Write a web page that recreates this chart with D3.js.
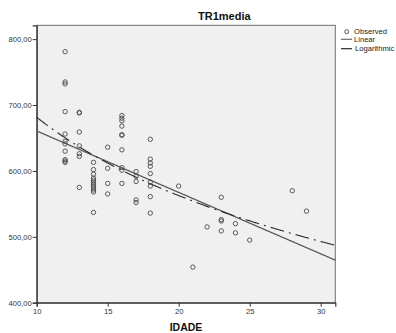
<!DOCTYPE html>
<html>
<head>
<meta charset="utf-8">
<script src="https://cdn.jsdelivr.net/npm/d3@7"></script>
<style>
  body { margin: 0; background: #fff; }
  svg { font-family: 'Liberation Sans', Arial, sans-serif; }
</style>
</head>
<body>
<div id="chart"></div>
<script>
const width = 396;
const height = 333;
const MARGIN = { top: 25.3, right: 60.7, bottom: 30.3, left: 36.7 };
const RADIUS = 2.2;

// observed points (IDADE, TR1media)
const idade = [
  12, 12, 12, 12, 12, 12, 12, 12, 12, 12, 12,
  13, 13, 13, 13, 13, 13, 13,
  14, 14, 14, 14, 14, 14, 14, 14, 14, 14, 14, 14,
  15, 15, 15, 15,
  16, 16, 16, 16, 16, 16, 16, 16, 16, 16,
  17, 17, 17, 17, 17,
  18, 18, 18, 18, 18, 18, 18, 18, 18,
  20, 21, 22,
  23, 23, 23, 23,
  24, 24, 25, 28, 29
];
const tr1media = [
  781, 735, 732, 690, 656, 645, 641, 630, 617, 615, 613,
  689, 688, 659, 638, 626, 622, 575,
  613, 602, 595, 589, 586, 583, 580, 577, 574, 571, 568, 537,
  636, 604, 581, 565,
  684, 680, 676, 668, 655, 654, 632, 605, 601, 581,
  599, 592, 584, 556, 552,
  648, 618, 612, 607, 596, 583, 577, 561, 536,
  577, 454, 515,
  560, 526, 524, 509,
  520, 506, 495, 570, 539
];

// fitted models: [intercept, slope]
const linearFit = [753.8, -9.32];
const logFit = [1076.6, -171.6]; // y = a + b * ln(x)

const xDomain = [10, 31.03];
const yDomain = [400, 821];
const xTicks = [10, 15, 20, 25, 30];
const yTicks = [400, 500, 600, 700, 800];
const legendItems = ['Observed', 'Linear', 'Logarithmic'];

const w = width - MARGIN.left - MARGIN.right;
const h = height - MARGIN.top - MARGIN.bottom;

const svg = d3
  .select('#chart')
  .append('svg')
  .attr('width', width)
  .attr('height', height);

const x = d3.scaleLinear().domain(xDomain).range([0, w]);
const y = d3.scaleLinear().domain(yDomain).range([h, 0]);

// title
svg.append('text')
  .attr('x', 198)
  .attr('y', 20)
  .style('font-size', '11px')
  .style('font-weight', 'bold')
  .attr('fill', '#111')
  .text('TR1media');

const g = svg.append('g')
  .attr('transform', 'translate(' + MARGIN.left + ',' + MARGIN.top + ')');

// plot background
g.append('rect')
  .attr('width', w)
  .attr('height', h)
  .attr('fill', '#f0f0f0')
  .attr('stroke', '#6e6e6e')
  .attr('stroke-width', 1);

// axes
const xAxis = g.append('g')
  .attr('transform', 'translate(0,' + h + ')')
  .call(d3.axisBottom(x).tickValues(xTicks).tickSize(4).tickPadding(2).tickFormat(d3.format('d')));
const yAxis = g.append('g')
  .call(d3.axisLeft(y).tickValues(yTicks).tickSize(4).tickPadding(1)
    .tickFormat((d) => d3.format('.2f')(d).replace('.', ',')));

[xAxis, yAxis].forEach((a) => {
  a.select('.domain').attr('stroke', '#333').attr('stroke-width', 1.2);
  a.selectAll('.tick line').attr('stroke', '#333');
  a.selectAll('.tick text')
    .style('font-size', '7.6px')
    .style('font-family', "'Liberation Sans', Arial, sans-serif")
    .attr('fill', '#333');
});

// x label
svg.append('text')
  .attr('x', MARGIN.left + w / 2)
  .attr('y', 331)
  .attr('text-anchor', 'middle')
  .style('font-size', '10.5px')
  .style('font-weight', 'bold')
  .attr('fill', '#111')
  .text('IDADE');

// fit lines
const xs = d3.range(xDomain[0], xDomain[1], 0.05).concat([xDomain[1]]);
const line = d3.line()
  .x((d) => x(d[0]))
  .y((d) => y(d[1]));

g.append('path')
  .datum(xs.map((v) => [v, linearFit[0] + linearFit[1] * v]))
  .attr('d', line)
  .attr('fill', 'none')
  .attr('stroke', '#5a5a5a')
  .attr('stroke-width', 1.3);

g.append('path')
  .datum(xs.map((v) => [v, logFit[0] + logFit[1] * Math.log(v)]))
  .attr('d', line)
  .attr('fill', 'none')
  .attr('stroke', '#2a2a2a')
  .attr('stroke-width', 1.1)
  .attr('stroke-dasharray', '14,5,2,5');

// observed points
g.selectAll('circle.dot')
  .data(idade)
  .join('circle')
  .classed('dot', true)
  .attr('r', RADIUS)
  .attr('cx', (d) => x(d))
  .attr('cy', (d, i) => y(tr1media[i]))
  .attr('fill', 'none')
  .attr('stroke', '#4a4a4a')
  .attr('stroke-width', 0.9);

// legend
const legend = svg.append('g').attr('transform', 'translate(341,31.7)');
legendItems.forEach((name, i) => {
  const row = legend.append('g').attr('transform', 'translate(0,' + (i === 0 ? 0 : 7.6 + (i - 1) * 9.4) + ')');
  if (i === 0) {
    row.append('circle').attr('cx', 5.7).attr('cy', 0).attr('r', 2)
      .attr('fill', 'none').attr('stroke', '#333').attr('stroke-width', 0.8);
  } else {
    row.append('line').attr('x1', 0).attr('x2', 11).attr('y1', 0).attr('y2', 0)
      .attr('stroke', i === 1 ? '#6a6a6a' : '#2a2a2a').attr('stroke-width', 1.2);
  }
  row.append('text')
    .attr('x', i === 2 ? 14 : 13)
    .attr('y', 2.6)
    .style('font-size', '7.6px')
    .attr('fill', '#222')
    .text(name);
});
</script>
</body>
</html>
